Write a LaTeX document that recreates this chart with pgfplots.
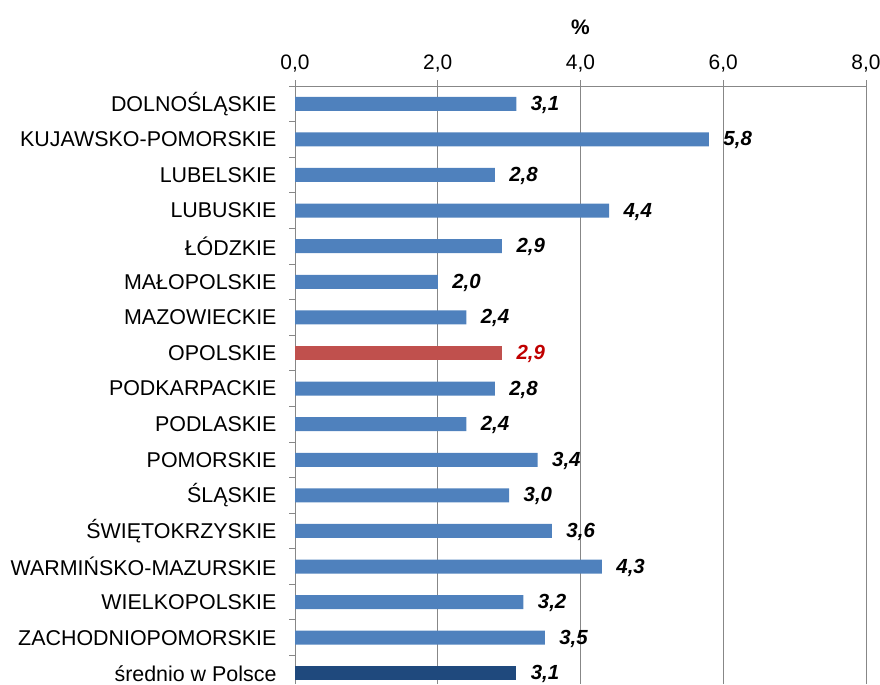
\documentclass[border=0pt]{standalone}
\usepackage{fontspec}
\setmainfont{Liberation Sans}
\usepackage{pgfplots}
\pgfplotsset{compat=1.18}
\definecolor{barblue}{HTML}{4F81BD}
\definecolor{barred}{HTML}{C0504D}
\definecolor{bardark}{HTML}{1F497D}
\definecolor{labred}{HTML}{C00000}
\definecolor{gridgray}{HTML}{878787}
\begin{document}
\begin{tikzpicture}
\begin{axis}[
    name=ax,
    xbar, bar shift=0pt, bar width=14bp,
    scale only axis, width=571bp, height=598bp,
    xmin=0, xmax=8, ymin=-0.5, ymax=16.3, y dir=reverse,
    axis x line*=top, axis y line*=left,
    axis line style={-, gridgray, line width=0.9pt},
    xtick={0,2,4,6,8},
    xmajorgrids, grid style={gridgray, line width=0.9pt},
    tick align=outside,
    xtick style={draw=gridgray, line width=0.9pt},
    major tick length=6bp,
    xticklabel style={font=\fontsize{21}{24}\selectfont, yshift=4bp},
    /pgf/number format/assume math mode=true,
    /pgf/number format/.cd, use comma, fixed, fixed zerofill, precision=1, /pgfplots/.cd,
    xlabel={\bfseries\%},
    xlabel style={font=\fontsize{21}{24}\selectfont, yshift=14bp},
    ytick={0,...,16},
    ytick style={draw=none},
    yticklabels={DOLNOŚLĄSKIE, KUJAWSKO-POMORSKIE, LUBELSKIE, LUBUSKIE, ŁÓDZKIE, MAŁOPOLSKIE, MAZOWIECKIE, OPOLSKIE, PODKARPACKIE, PODLASKIE, POMORSKIE, ŚLĄSKIE, ŚWIĘTOKRZYSKIE, WARMIŃSKO-MAZURSKIE, WIELKOPOLSKIE, ZACHODNIOPOMORSKIE, średnio w Polsce},
    yticklabel style={font=\fontsize{21.5}{24}\selectfont, xshift=-9bp},
    extra y ticks={-0.5,0.5,...,15.5},
    extra y tick labels={},
    extra y tick style={ytick style={draw=gridgray, line width=0.9pt}},
    nodes near coords,
    every node near coord/.append style={font=\fontsize{20.5}{24}\selectfont\bfseries\itshape, anchor=west, xshift=11bp, yshift=-1bp},
]
\addplot[fill=barblue, draw=none] coordinates {
    (3.1,0) (5.8,1) (2.8,2) (4.4,3) (2.9,4) (2.0,5) (2.4,6)
    (2.8,8) (2.4,9) (3.4,10) (3.0,11) (3.6,12) (4.3,13) (3.2,14) (3.5,15)
};
\addplot[fill=barred, draw=none, every node near coord/.append style={text=labred}] coordinates {
    (2.9,7)
};
\addplot[fill=bardark, draw=none] coordinates {
    (3.1,16)
};
\end{axis}
\pgfresetboundingbox
\path ([xshift=-295bp]ax.south west) rectangle ([xshift=14bp,yshift=86bp]ax.north east);
\end{tikzpicture}
\end{document}
